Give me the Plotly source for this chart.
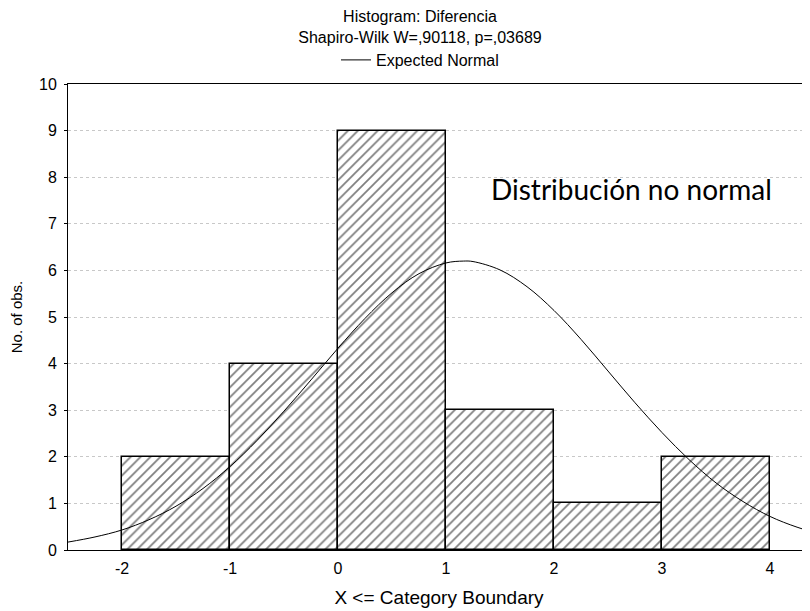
import plotly.graph_objects as go

# Histogram bins (lower boundaries) and counts
bin_left = [-2, -1, 0, 1, 2, 3]
counts = [2, 4, 9, 3, 1, 2]

# Expected normal curve
curve_x = [-2.5, -2.25, -2.0, -1.75, -1.5, -1.25, -1.0, -0.75, -0.5, -0.25, 0.0, 0.25,
           0.5, 0.75, 1.0, 1.16, 1.25, 1.5, 1.75, 2.0, 2.25, 2.5, 2.75, 3.0, 3.25, 3.5,
           3.75, 4.0, 4.25, 4.5]
curve_y = [0.17, 0.28, 0.43, 0.65, 0.94, 1.32, 1.79, 2.35, 2.98, 3.65, 4.33, 4.97,
           5.52, 5.93, 6.16, 6.2, 6.19, 6.01, 5.65, 5.14, 4.52, 3.84, 3.16, 2.52, 1.94,
           1.44, 1.04, 0.72, 0.49, 0.32]

x_ticks = [-2, -1, 0, 1, 2, 3, 4]
y_ticks = list(range(0, 11))

W, H = 802, 603
fig = go.Figure()
fig.add_trace(go.Bar(
    x=[b + 0.5 for b in bin_left], y=counts, width=1,
    marker=dict(color="white",
                line=dict(color="black", width=1.5),
                pattern=dict(shape="/", fgcolor="black", bgcolor="white",
                             size=7, solidity=0.25)),
    showlegend=False, hoverinfo="skip"))
fig.add_trace(go.Scatter(
    x=curve_x, y=curve_y, mode="lines", line=dict(color="black", width=1, shape="spline"),
    name="Expected Normal", showlegend=True))

font = "Liberation Sans, Arial, sans-serif"
fig.update_layout(
    width=W, height=H,
    margin=dict(l=60, r=0, t=76, b=61, autoexpand=False),
    plot_bgcolor="white", paper_bgcolor="white",
    font=dict(family=font, size=16, color="black"),
    title=dict(text="Histogram: Diferencia<br>Shapiro-Wilk W=,90118, p=,03689",
               x=412 / W, xref="container", xanchor="center",
               y=1 - 14 / H, yref="container", yanchor="middle",
               font=dict(family=font, size=16, color="black")),
    legend=dict(orientation="h", x=412 / W, xref="container", xanchor="center",
                y=1 - 52 / H, yref="container", yanchor="middle",
                font=dict(family=font, size=16),
                itemwidth=30, bgcolor="rgba(0,0,0,0)"),
    bargap=0,
    xaxis=dict(range=[-2.5, 4.37], tickvals=x_ticks, ticktext=[str(v) for v in x_ticks],
               showline=True, linecolor="black", linewidth=1, mirror=True,
               showgrid=False, zeroline=False, ticks="", ticklabelstandoff=4,
               title=dict(text="X <= Category Boundary", standoff=14),
               tickfont=dict(size=16)),
    yaxis=dict(range=[0, 10], tickvals=y_ticks, showline=True, linecolor="black",
               linewidth=1, showgrid=True, gridcolor="#c8c8c8", griddash="dot",
               gridwidth=1, zeroline=False, ticks="outside", ticklen=3,
               ticklabelstandoff=4,
               tickcolor="black", title=dict(text="No. of obs.", standoff=14,
                                             font=dict(size=15)),
               tickfont=dict(size=16)),
)
fig.add_annotation(x=2.72, y=7.75, text="Distribución no normal", showarrow=False,
                   font=dict(family="Lato, sans-serif", size=28, color="black"))

fig.write_html("out.html")
